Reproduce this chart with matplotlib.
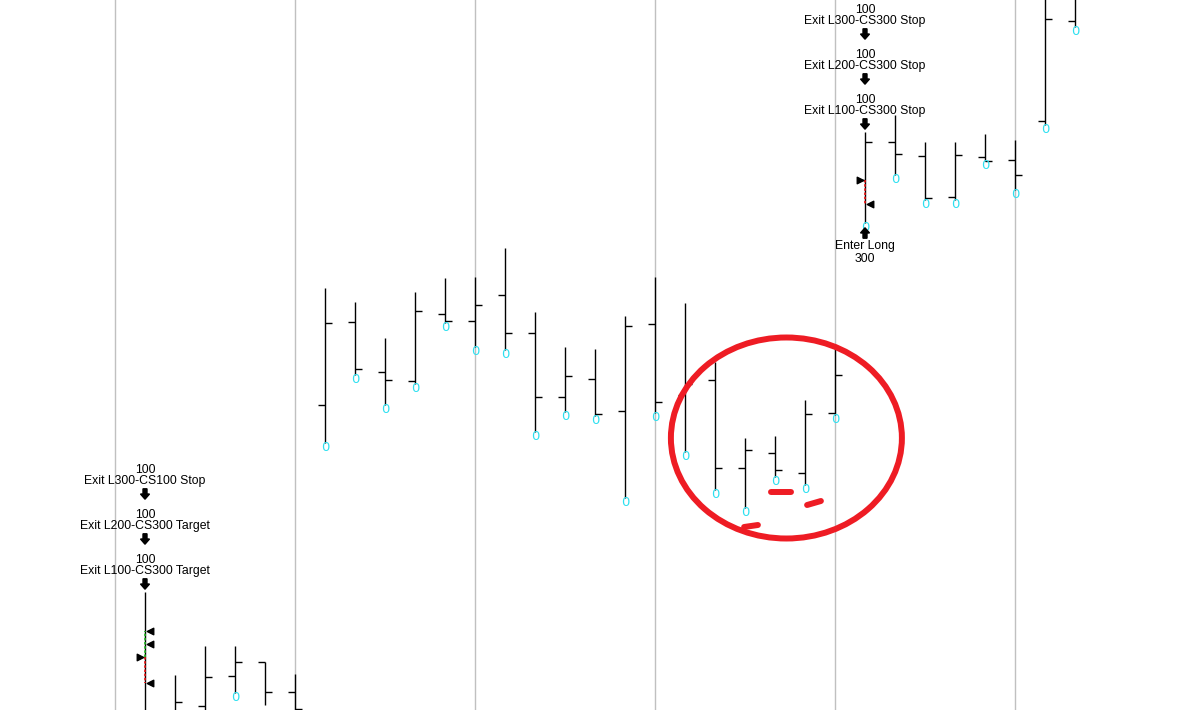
import matplotlib
matplotlib.use('Agg')
import matplotlib.pyplot as plt
from matplotlib.patches import Ellipse

# OHLC bars, one per index (price units)
opens  = [997.5, 999, 1002, 1017, 1024, 1009, 1152.5, 1194, 1169, 1164.5, 1198, 1194.5,
          1207.5, 1188.5, 1156.5, 1165.5, 1149.5, 1193, 1157.5, 1165, 1121, 1128.5, 1118.5, 1148.5,
          1265, 1284, 1277, 1256.5, 1276.5, 1275, 1294.5, 1344.5]
highs  = [1059, 1017.5, 1032, 1032, 1024, 1018, 1211, 1204, 1186, 1209, 1216, 1216.5,
          1231, 1199, 1181.5, 1180.5, 1197, 1216.5, 1203.5, 1174, 1136, 1137, 1155, 1181.5,
          1289, 1297.5, 1284, 1284, 1288, 1285, 1365, 1365]
lows   = [987.5, 992.5, 995, 1008.5, 1002.5, 995, 1133.5, 1167.5, 1152.5, 1163, 1193.5, 1181.5,
          1180, 1139, 1149, 1147, 1106, 1148.5, 1129, 1110, 1101, 1116.5, 1112.5, 1147.5,
          1243.5, 1267.5, 1255, 1255, 1274.5, 1260, 1292.5, 1341.5]
closes = [995, 1004, 1016.5, 1024, 1009, 1000.5, 1193.5, 1170.5, 1165, 1199.5, 1194.5, 1202.5,
          1188.5, 1156.5, 1167, 1148, 1192, 1154, 1163, 1121, 1130, 1120, 1148, 1167.5,
          1284, 1278, 1256, 1277.5, 1274.5, 1267.5, 1345.5, 1359]

# trades: bar index, entry price, exit prices
entry_bars   = [0, 24]
entry_prices = [1026.5, 1265]
exit_bars    = [0, 0, 0, 24]
exit_prices  = [1039.5, 1033, 1013.5, 1253]

# order labels above/below bars
exit_labels = [
    (0,  ['Exit L100-CS300 Target', 'Exit L200-CS300 Target', 'Exit L300-CS100 Stop']),
    (24, ['Exit L100-CS300 Stop', 'Exit L200-CS300 Stop', 'Exit L300-CS300 Stop']),
]
exit_qty = '100'
enter_label = (24, 'Enter Long', '300')

grid_bars = [-1, 5, 11, 17, 23, 29]

PX_X = 30.0   # pixels per bar
PX_Y = 2.0    # pixels per price unit
TICK = 7 / PX_X
YMIN, YMAX = 1000, 1000 + 710 / PX_Y

fig = plt.figure(figsize=(11.92, 7.10), dpi=100)
ax = fig.add_axes([0, 0, 1, 1])
ax.set_xlim(-145 / PX_X, (1192 - 145) / PX_X)
ax.set_ylim(YMIN, YMAX)
ax.axis('off')

for g in grid_bars:
    ax.axvline(g, color='#c0c0c0', lw=1.0, zorder=0)

xs = list(range(len(opens)))
ax.vlines(xs, lows, highs, color='black', lw=1.0, zorder=2)
ax.hlines(opens, [x - TICK for x in xs], xs, color='black', lw=1.0, zorder=2)
ax.hlines(closes, xs, [x + TICK for x in xs], color='black', lw=1.0, zorder=2)

for x, lo in zip(xs, lows):
    if YMIN + 6 < lo < YMAX:
        ax.text(x, lo - 2.2, '0', color='#2ee0f0', fontsize=9.5, ha='center', va='center',
                family='DejaVu Sans', zorder=3)

# trade lines
ax.plot([0, 0], [entry_prices[0], 1039.5], color='#22bb22', lw=1.2, ls=(0, (1.5, 1)), zorder=3)
ax.plot([0, 0], [entry_prices[0], 1013.5], color='#ee1111', lw=1.2, ls=(0, (1.5, 1)), zorder=3)
ax.plot([24, 24], [entry_prices[1], 1253], color='#ee1111', lw=1.2, ls=(0, (1.5, 1)), zorder=3)

ax.scatter([b - 0.17 for b in entry_bars], entry_prices, marker='>', s=22, color='black', zorder=4)
ax.scatter([b + 0.17 for b in exit_bars], exit_prices, marker='<', s=22, color='black', zorder=4)

font = dict(family='Liberation Sans', fontsize=8.8, color='black', ha='center', va='center')

def down_arrow(x, yc):
    ax.arrow(x, yc + 2.6, 0, -5.2, width=4 / PX_X, head_width=9 / PX_X, head_length=2.6,
             length_includes_head=True, color='black', zorder=5)

for b, labels in exit_labels:
    hi = highs[b]
    for k, lab in enumerate(labels):
        ya = hi + (8 + 45 * k) / PX_Y
        down_arrow(b, ya)
        ax.text(b, ya + 13 / PX_Y, lab, **font)
        ax.text(b, ya + 24 / PX_Y, exit_qty, **font)

b, lab, qty = enter_label
ya = lows[b] - 10 / PX_Y
ax.arrow(b, ya - 2.6, 0, 5.2, width=4 / PX_X, head_width=9 / PX_X, head_length=2.6,
         length_includes_head=True, color='black', zorder=5)
ax.text(b, ya - 13 / PX_Y, lab, **font)
ax.text(b, ya - 26 / PX_Y, qty, **font)

# hand-drawn red markup
red = '#ee1c24'
ax.add_patch(Ellipse((21.38, 1136), 231 / PX_X, 201 / PX_Y, fill=False, ec=red, lw=4.3, zorder=6))
ax.plot([19.97, 20.43], [1091.5, 1092.5], color=red, lw=4.3, solid_capstyle='round', zorder=6)
ax.plot([20.87, 21.53], [1109, 1109], color=red, lw=4.3, solid_capstyle='round', zorder=6)
ax.plot([22.07, 22.53], [1102.5, 1104.5], color=red, lw=4.3, solid_capstyle='round', zorder=6)

fig.savefig('out.png', dpi=100)
